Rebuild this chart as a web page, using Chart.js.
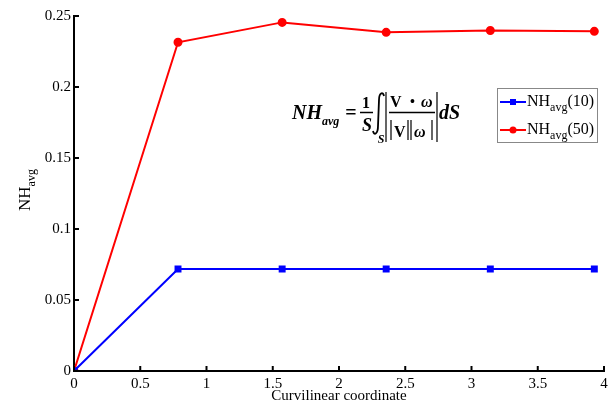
<!DOCTYPE html>
<html>
<head>
<meta charset="utf-8">
<script src="https://cdn.jsdelivr.net/npm/chart.js@4"></script>
<style>
  html, body { margin: 0; padding: 0; background: #fff; }
  #wrap { width: 616px; height: 405px; position: relative; }
</style>
</head>
<body>
<div id="wrap"><canvas id="nhChart"></canvas></div>
<script>
// data
const xCoord = [0, 0.785, 1.571, 2.356, 3.142, 3.927];
const nh10 = [0, 0.0718, 0.0718, 0.0719, 0.0719, 0.0718];
const nh50 = [0, 0.2315, 0.2455, 0.2385, 0.2398, 0.2392];
const seriesNames = ['(10)', '(50)'];
const xTitle = 'Curvilinear coordinate';

const serif = '"Liberation Serif", "Times New Roman", serif';

function toPoints(ys) {
    return xCoord.map((x, i) => ({ x: x, y: ys[i] }));
}

function fmt(v) {
    return String(parseFloat(v.toFixed(3)));
}

// inward tick marks, y title with subscript, formula, legend
const decorPlugin = {
    id: 'decor',
    afterDraw(chart) {
        const ctx = chart.ctx;
        const xs = chart.scales.x, ys = chart.scales.y;
        const area = chart.chartArea;
        ctx.save();
        ctx.strokeStyle = '#000';
        ctx.lineWidth = 2;
        xs.ticks.forEach(t => {
            const px = xs.getPixelForValue(t.value);
            ctx.beginPath();
            ctx.moveTo(px, area.bottom);
            ctx.lineTo(px, area.bottom - 5);
            ctx.stroke();
        });
        ys.ticks.forEach(t => {
            const py = ys.getPixelForValue(t.value);
            ctx.beginPath();
            ctx.moveTo(area.left, py);
            ctx.lineTo(area.left + 5, py);
            ctx.stroke();
        });

        // y title
        ctx.save();
        ctx.translate(30, 190);
        ctx.rotate(-Math.PI / 2);
        ctx.fillStyle = '#000';
        ctx.textAlign = 'left';
        ctx.font = '17px ' + serif;
        const wNH = ctx.measureText('NH').width;
        ctx.font = '12px ' + serif;
        const wAvg = ctx.measureText('avg').width;
        const start = -(wNH + wAvg) / 2;
        ctx.font = '17px ' + serif;
        ctx.fillText('NH', start, 0);
        ctx.font = '12px ' + serif;
        ctx.fillText('avg', start + wNH, 5);
        ctx.restore();

        // formula
        ctx.fillStyle = '#000';
        ctx.strokeStyle = '#000';
        ctx.textAlign = 'left';
        ctx.font = 'bold italic 20px ' + serif;
        ctx.fillText('NH', 292, 119);
        ctx.font = 'bold italic 12px ' + serif;
        ctx.fillText('avg', 322, 125);
        ctx.textAlign = 'center';
        ctx.font = 'bold 20px ' + serif;
        ctx.fillText('=', 351, 119);
        ctx.font = 'bold 16px ' + serif;
        ctx.fillText('1', 366, 108);
        ctx.font = 'bold italic 18px ' + serif;
        ctx.fillText('S', 367, 131);
        ctx.lineWidth = 1.5;
        ctx.beginPath();
        ctx.moveTo(360, 112.5); ctx.lineTo(373, 112.5); ctx.stroke();
        // integral sign
        ctx.lineWidth = 1.8;
        ctx.beginPath();
        ctx.moveTo(384, 96);
        ctx.bezierCurveTo(383, 91, 379, 93, 379, 100);
        ctx.lineTo(378, 126);
        ctx.bezierCurveTo(378, 134, 374, 136, 373, 131);
        ctx.stroke();
        ctx.font = 'bold italic 12px ' + serif;
        ctx.fillText('S', 381, 143);
        ctx.lineWidth = 1.2;
        ctx.beginPath();
        ctx.moveTo(386, 92); ctx.lineTo(386, 142);
        ctx.moveTo(437, 92); ctx.lineTo(437, 142);
        ctx.stroke();
        ctx.textAlign = 'left';
        ctx.font = 'bold 16px ' + serif;
        ctx.fillText('V', 390, 107);
        ctx.font = 'bold 14px ' + serif;
        ctx.fillText('\u2022', 410, 106);
        ctx.font = 'bold italic 16px ' + serif;
        ctx.fillText('\u03C9', 421, 107);
        ctx.lineWidth = 1.5;
        ctx.beginPath();
        ctx.moveTo(389, 112.5); ctx.lineTo(435, 112.5); ctx.stroke();
        ctx.font = 'bold 16px ' + serif;
        ctx.fillText('V', 394, 137);
        ctx.font = 'bold italic 16px ' + serif;
        ctx.fillText('\u03C9', 414, 137);
        ctx.lineWidth = 1.2;
        ctx.beginPath();
        [391, 408, 411, 432].forEach(x => { ctx.moveTo(x, 120); ctx.lineTo(x, 140); });
        ctx.stroke();
        ctx.font = 'bold italic 20px ' + serif;
        ctx.fillText('dS', 439, 119);

        // legend
        ctx.fillStyle = '#fff';
        ctx.fillRect(497, 88, 101, 55);
        ctx.strokeStyle = '#888';
        ctx.lineWidth = 1;
        ctx.strokeRect(497.5, 88.5, 100, 54);
        const items = [
            { c: '#0000ff', pt: 'rect', y: 102, name: seriesNames[0] },
            { c: '#ff0000', pt: 'circle', y: 130, name: seriesNames[1] }
        ];
        items.forEach(it => {
            ctx.strokeStyle = it.c;
            ctx.fillStyle = it.c;
            ctx.lineWidth = 2;
            ctx.beginPath();
            ctx.moveTo(500, it.y); ctx.lineTo(526, it.y); ctx.stroke();
            if (it.pt === 'rect') {
                ctx.fillRect(510, it.y - 3, 6, 6);
            } else {
                ctx.beginPath(); ctx.arc(513, it.y, 3.5, 0, Math.PI * 2); ctx.fill();
            }
            ctx.fillStyle = '#000';
            ctx.font = '16px ' + serif;
            ctx.fillText('NH', 527, it.y + 4);
            const w = ctx.measureText('NH').width;
            ctx.font = '12px ' + serif;
            ctx.fillText('avg', 527 + w, it.y + 9);
            const w2 = ctx.measureText('avg').width;
            ctx.font = '16px ' + serif;
            ctx.fillText(it.name, 527 + w + w2, it.y + 4);
        });
        ctx.restore();
    }
};

new Chart(document.getElementById('nhChart').getContext('2d'), {
    type: 'scatter',
    data: {
        datasets: [{
            label: 'NHavg(10)',
            data: toPoints(nh10),
            showLine: true,
            borderColor: '#0000ff',
            backgroundColor: '#0000ff',
            borderWidth: 2,
            pointStyle: 'rect',
            pointRadius: 3.5,
            tension: 0
        }, {
            label: 'NHavg(50)',
            data: toPoints(nh50),
            showLine: true,
            borderColor: '#ff0000',
            backgroundColor: '#ff0000',
            borderWidth: 2,
            pointStyle: 'circle',
            pointRadius: 3.5,
            tension: 0
        }]
    },
    options: {
        responsive: true,
        maintainAspectRatio: false,
        animation: false,
        layout: { padding: { top: 16, right: 12, left: 0, bottom: 0 } },
        plugins: { legend: { display: false }, tooltip: { enabled: false } },
        scales: {
            x: {
                type: 'linear',
                min: 0, max: 4,
                ticks: { stepSize: 0.5, color: '#000', font: { family: serif, size: 15 }, padding: 4, maxRotation: 0,
                         callback: v => fmt(v) },
                grid: { display: false, drawTicks: false },
                border: { display: true, color: '#000', width: 2 },
                title: { display: true, text: xTitle, color: '#000', font: { family: serif, size: 15 }, padding: { top: 0, bottom: 0 } },
                afterFit(s) { s.height = 34; }
            },
            y: {
                min: 0, max: 0.25,
                ticks: { stepSize: 0.05, color: '#000', font: { family: serif, size: 15 }, padding: 3,
                         callback: v => fmt(v) },
                grid: { display: false, drawTicks: false },
                border: { display: true, color: '#000', width: 2 },
                afterFit(s) { s.width = 74; }
            }
        }
    },
    plugins: [decorPlugin]
});
</script>
</body>
</html>
